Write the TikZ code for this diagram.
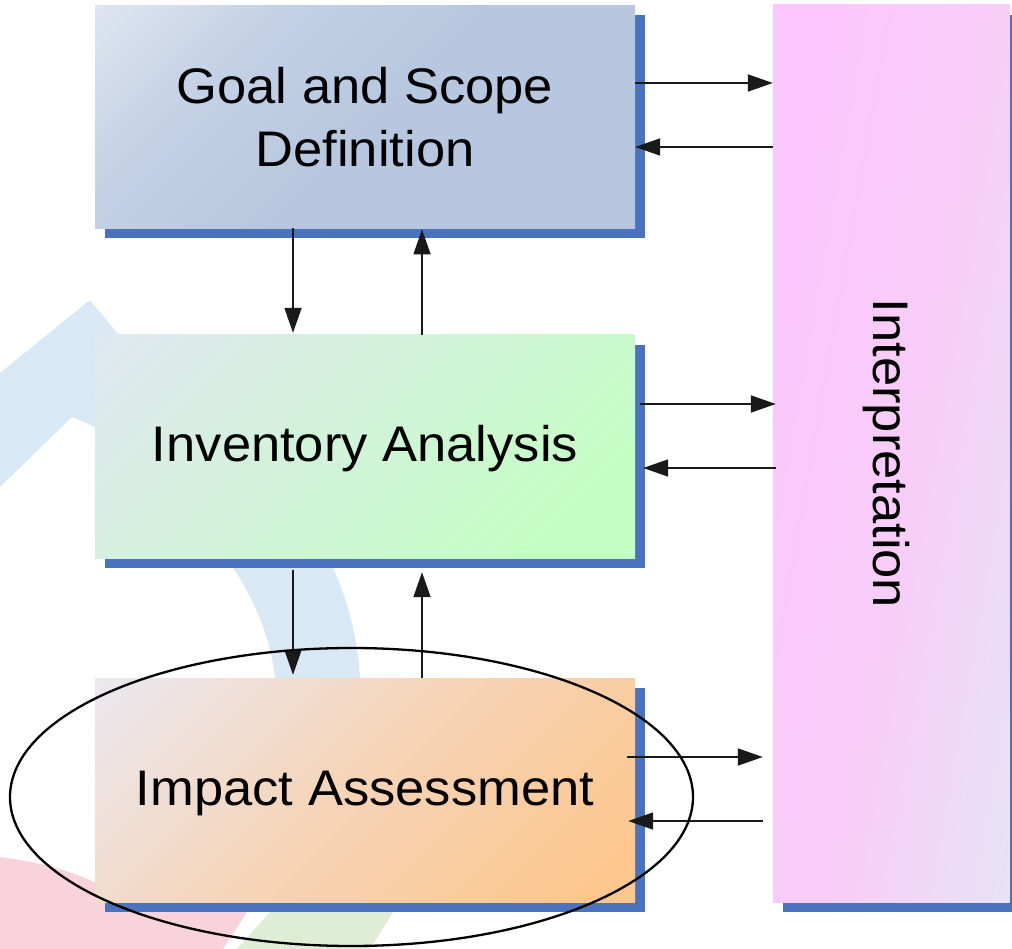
\documentclass[tikz,border=0pt]{standalone}
\usepackage{fontspec}
\setmainfont{Liberation Sans}[FakeStretch=1.05]
\usetikzlibrary{arrows.meta,shadows,calc}
\definecolor{shadowblue}{HTML}{4A73BF}
\definecolor{bgblue}{HTML}{D8E8F5}
\definecolor{bgpink}{HTML}{F9D3DC}
\definecolor{bggreen}{HTML}{DFEDD5}
\definecolor{goalA}{HTML}{E2E8F2}
\definecolor{goalB}{HTML}{C4D1E5}
\definecolor{goalC}{HTML}{B6C7DF}
\definecolor{invA}{HTML}{E0E8F0}
\definecolor{invB}{HTML}{D0F4D6}
\definecolor{invC}{HTML}{C5FEC5}
\definecolor{impA}{HTML}{EBE8EF}
\definecolor{impB}{HTML}{F6D3B4}
\definecolor{impC}{HTML}{FDC78F}
\definecolor{intA}{HTML}{FCC7FC}
\definecolor{intB}{HTML}{F7CEF8}
\definecolor{intC}{HTML}{E2E8F6}
\pgfdeclareverticalshading{goalsh}{100bp}{color(0bp)=(goalC); color(48bp)=(goalC); color(68bp)=(goalB); color(88bp)=(goalA); color(100bp)=(goalA)}
\pgfdeclareverticalshading{invsh}{100bp}{color(0bp)=(invC); color(25bp)=(invC); color(50bp)=(invB); color(85bp)=(invA); color(100bp)=(invA)}
\pgfdeclareverticalshading{impsh}{100bp}{color(0bp)=(impC); color(20bp)=(impC); color(50bp)=(impB); color(85bp)=(impA); color(100bp)=(impA)}
\pgfdeclarehorizontalshading{intsh}{100bp}{color(0bp)=(intA); color(30bp)=(intA); color(55bp)=(intB); color(85bp)=(intC); color(100bp)=(intC)}
\begin{document}
\begin{tikzpicture}[x=1pt,y=-1pt,
  box/.style={rectangle, inner sep=0pt, minimum width=540pt, minimum height=223pt,
    align=center, font=\fontsize{50}{63}\selectfont,
    general shadow={fill=shadowblue, shadow xshift=10pt, shadow yshift=-10pt}},
  arr/.style={line width=1.8pt, draw=black!90, -{Triangle[length=25pt,width=17pt]}},
  ring/.style={line width=2.3pt, draw=black}]
\useasboundingbox (0,0) rectangle (1012,949);
% faint background
\fill[bgblue] (0,373) -- (90,300) -- (117,333) -- (140,345) -- (320,540) -- (333,568)
  .. controls (348,600) and (358,640) .. (360,678) -- (360,700) -- (275,700) -- (275,678)
  .. controls (271,640) and (255,600) .. (233,568) -- (233,550) -- (100,430)
  -- (95,427) -- (72,417) -- (0,487) -- cycle;
\fill[bgpink] (0,857) .. controls (40,862) and (75,872) .. (100,885) -- (265,885)
  -- (247,912) -- (223,949) -- (0,949) -- cycle;
\fill[bggreen] (294,885) -- (410,885) -- (370,949) -- (237,949) -- cycle;
% boxes
\node[box, shading=goalsh, shading angle=45]
  (goal) at (365,116.75) {Goal and Scope\\Definition};
\node[box, shading=invsh, shading angle=45,
  text height=36pt, text depth=7pt] (inv) at (365,446.5) {Inventory Analysis};
\node[box, minimum height=224pt, shading=impsh, shading angle=45,
  text height=36pt, text depth=6pt] (imp) at (365,790) {Impact Assessment};
\node[box, minimum width=897pt, minimum height=236.5pt, rotate=-90,
  shading=intsh, shading angle=-10,
  text height=40pt, text depth=3.5pt] (interp) at (891.25,453.5) {Interpretation};
% arrows (interp is rotated: its west side is interp.south)
\draw[arr] (goal.east |- 0,83) -- (interp.south |- 0,83);
\draw[arr] (interp.south |- 0,147) -- (goal.east |- 0,147);
\draw[arr] ($(inv.east |- 0,404)+(5,0)$) -- ($(interp.south |- 0,404)+(3,0)$);
\draw[arr] ($(interp.south |- 0,468)+(3,0)$) -- ($(inv.east |- 0,468)+(8,0)$);
\draw[arr] ($(imp.east |- 0,757)+(-8,0)$) -- ($(interp.south |- 0,757)+(-10,0)$);
\draw[arr] ($(interp.south |- 0,821)+(-10,0)$) -- ($(imp.east |- 0,821)+(-7,0)$);
\draw[arr] (goal.south -| 293,0) -- ($(inv.north -| 293,0)+(0,-2)$);
\draw[arr] (inv.north -| 422,0) -- ($(goal.south -| 422,0)+(0,1)$);
\draw[arr] ($(inv.south -| 293,0)+(0,12)$) -- ($(imp.north -| 293,0)+(0,-3)$);
\draw[arr] (imp.north -| 422,0) -- ($(inv.south -| 422,0)+(0,14)$);
% highlight ellipse
\draw[ring] (351.5,797) ellipse [x radius=341.5, y radius=149];
\end{tikzpicture}
\end{document}
